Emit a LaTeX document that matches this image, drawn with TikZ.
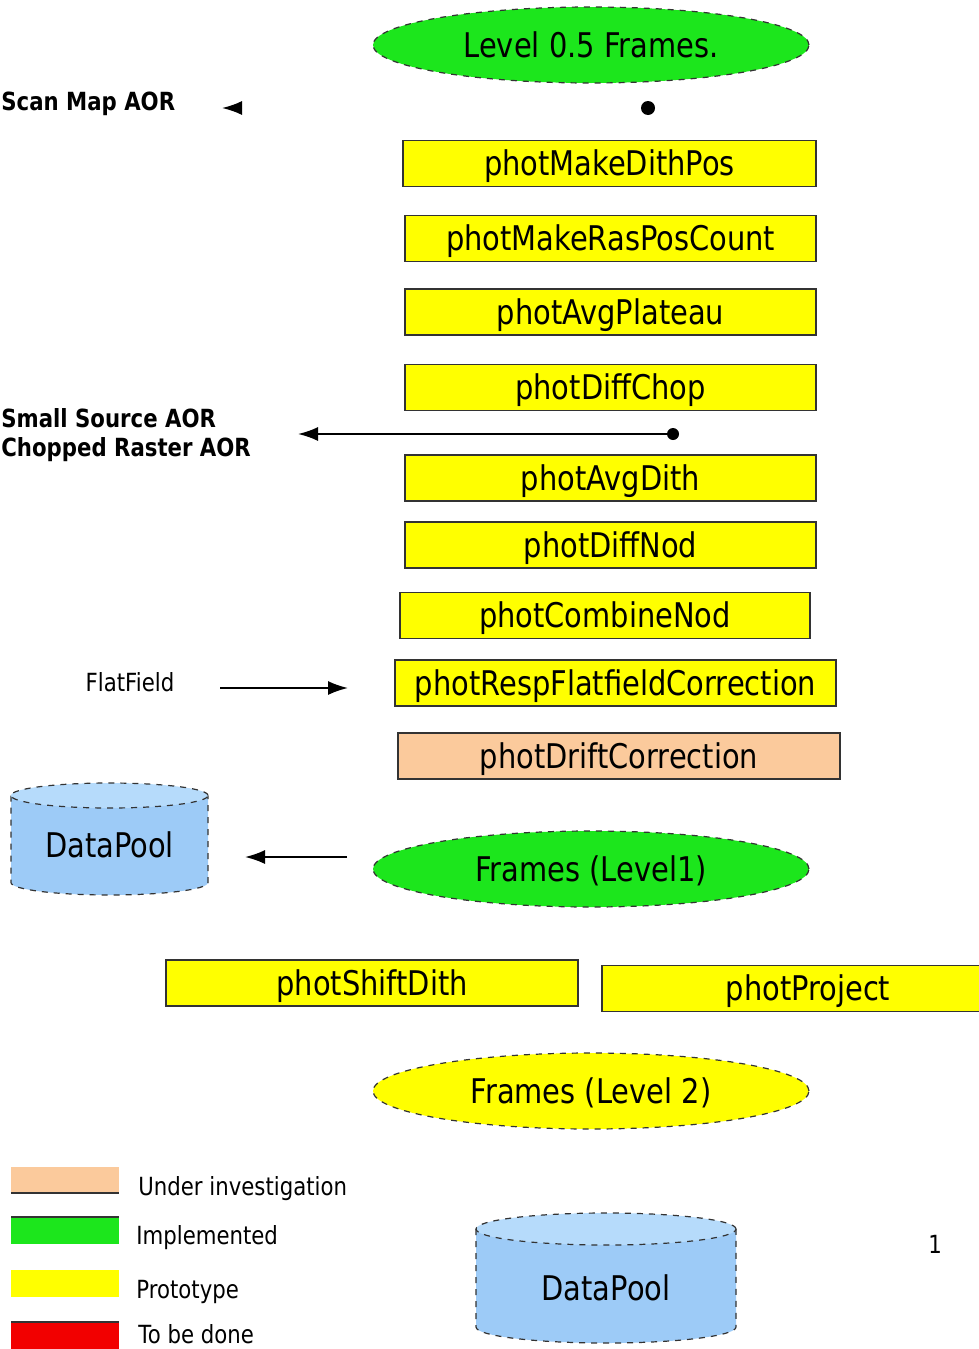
\documentclass[tikz,border=0pt]{standalone}
\usepackage{fontspec}
\setmainfont{DejaVu Sans}[FakeStretch=0.85]
\usepackage{tikz}
\usetikzlibrary{positioning, arrows.meta, shapes.geometric}
\definecolor{cProto}   {HTML}{FFFF00}
\definecolor{cDone}    {HTML}{1CE61C}
\definecolor{cInvest}  {HTML}{FBCA9C}
\definecolor{cTodo}    {HTML}{F20000}
\definecolor{cPoolBody}{HTML}{9DCBF7}
\definecolor{cPoolTop} {HTML}{B6DBFB}
\definecolor{cEdge}    {HTML}{333333}

\begin{document}
\begin{tikzpicture}[x=0.5pt, y=0.5pt,
    proc/.style={draw=cEdge, line width=0.6pt, fill=cProto, inner sep=0pt,
      minimum height=23pt, text height=14pt, text depth=2pt,
      font=\fontsize{17}{19}\selectfont},
    stage/.style={ellipse, draw=cEdge, dashed, line width=0.6pt, inner sep=0pt,
      minimum width=218pt, minimum height=38pt, text height=14pt, text depth=2pt,
      font=\fontsize{17}{19}\selectfont},
    flow/.style={line width=0.9pt, -{Latex[length=10pt, width=7pt]}},
    dot/.style={circle, fill=black, inner sep=0pt, minimum size=6pt},
    aor/.style={anchor=west, align=left, inner sep=0pt,
      font=\bfseries\fontsize{12.5}{14.5}\selectfont},
    key/.style={anchor=west, inner sep=0pt, font=\fontsize{12.5}{14}\selectfont},
  ]
  \clip (0,0) rectangle (979,-1349);

  % level 0.5 input
  \node[stage, fill=cDone] (lvlhalf) at (591,-45) {Level 0.5 Frames.};
  \node[dot, minimum width=5pt, minimum height=7pt] (scandot) at (648,-108) {};
  \coordinate (scanend) at (222,-108);
  \draw[flow] ([xshift=10pt]scanend) -- (scanend);
  \node[aor] (scanaor) at (1,-104) {Scan Map AOR};

  % pipeline
  \node[proc, minimum width=206.5pt] (makedith) at (609.5,-163.5) {photMakeDithPos};
  \node[proc, minimum width=205.5pt] (raspos)   at (610.5,-238.5) {photMakeRasPosCount};
  \node[proc, minimum width=205.5pt] (avgplat)  at (610.5,-312)   {photAvgPlateau};
  \node[proc, minimum width=205.5pt] (diffchop) at (610.5,-387.5) {photDiffChop};
  \node[proc, minimum width=205.5pt] (avgdith)  at (610.5,-478)   {photAvgDith};
  \node[proc, minimum width=205.5pt] (diffnod)  at (610.5,-545)   {photDiffNod};
  \node[proc, minimum width=205pt]   (combnod)  at (605,-615.5)   {photCombineNod};
  \node[proc, minimum width=220.5pt] (respflat) at (615.5,-683)   {photRespFlatfieldCorrection};
  \node[proc, minimum width=221pt, fill=cInvest] (drift) at (619,-756) {photDriftCorrection};

  % chopped branch
  \node[dot] (chopdot) at (673,-434) {};
  \coordinate (chopend) at (298,-434);
  \draw[flow] (chopdot) -- (chopend);
  \node[aor] (chopaor) at (1,-435.5) {Small Source AOR\\Chopped Raster AOR};

  % flat field
  \node[key, anchor=center] (flatfield) at (130,-682) {FlatField};
  \coordinate (ffstart) at (220,-688);
  \coordinate (ffend) at (348,-688);
  \draw[flow] (ffstart) -- (ffend);

  % level 1
  \node[stage, fill=cDone] (lvlone) at (591,-869) {Frames (Level1)};
  \fill[cPoolBody] (11,-795.5) -- (11,-882.5)
    arc[start angle=180, end angle=360, x radius=98.5, y radius=12.5] -- (208,-795.5) -- cycle;
  \draw[cEdge, dashed, line width=0.6pt] (11,-795.5) -- (11,-882.5)
    arc[start angle=180, end angle=360, x radius=98.5, y radius=12.5] -- (208,-795.5);
  \draw[cEdge, dashed, line width=0.6pt, fill=cPoolTop] (109.5,-795.5) ellipse[x radius=98.5, y radius=12.5];
  \node[font=\fontsize{17}{19}\selectfont] (poolone) at (109.5,-845) {DataPool};
  \coordinate (lvloneout) at (347,-857);
  \coordinate (poolonein) at (245,-857);
  \draw[flow] (lvloneout) -- (poolonein);

  % level 2
  \node[proc, minimum width=206pt] (shiftdith) at (372,-983) {photShiftDith};
  \node[proc, minimum width=206pt] (project)   at (808,-988.5) {photProject};
  \node[stage, fill=cProto] (lvltwo) at (591,-1091) {Frames (Level 2)};

  \fill[cPoolBody] (476,-1229) -- (476,-1327)
    arc[start angle=180, end angle=360, x radius=130, y radius=16] -- (736,-1229) -- cycle;
  \draw[cEdge, dashed, line width=0.6pt] (476,-1229) -- (476,-1327)
    arc[start angle=180, end angle=360, x radius=130, y radius=16] -- (736,-1229);
  \draw[cEdge, dashed, line width=0.6pt, fill=cPoolTop] (606,-1229) ellipse[x radius=130, y radius=16];
  \node[font=\fontsize{17}{19}\selectfont] (pooltwo) at (606,-1288) {DataPool};

  % legend
  \fill[cInvest] (11,-1167) rectangle (119,-1193);
  \draw[cEdge, line width=0.8pt] (11,-1193) -- (119,-1193);
  \fill[cDone] (11,-1217) rectangle (119,-1244);
  \draw[cEdge, line width=0.8pt] (11,-1217) -- (119,-1217);
  \fill[cProto] (11,-1270) rectangle (119,-1297);
  \fill[cTodo] (11,-1322) rectangle (119,-1349);
  \draw[cEdge, line width=0.8pt] (11,-1322) -- (119,-1322);
  \node[key] (keyinvest) at (138,-1189) {Under investigation};
  \node[key] (keydone)   at (136,-1238) {Implemented};
  \node[key] (keyproto)  at (136,-1292) {Prototype};
  \node[key] (keytodo)   at (138,-1334) {To be done};

  \node[key, anchor=center] (pagenum) at (935,-1244) {1};
\end{tikzpicture}
\end{document}
